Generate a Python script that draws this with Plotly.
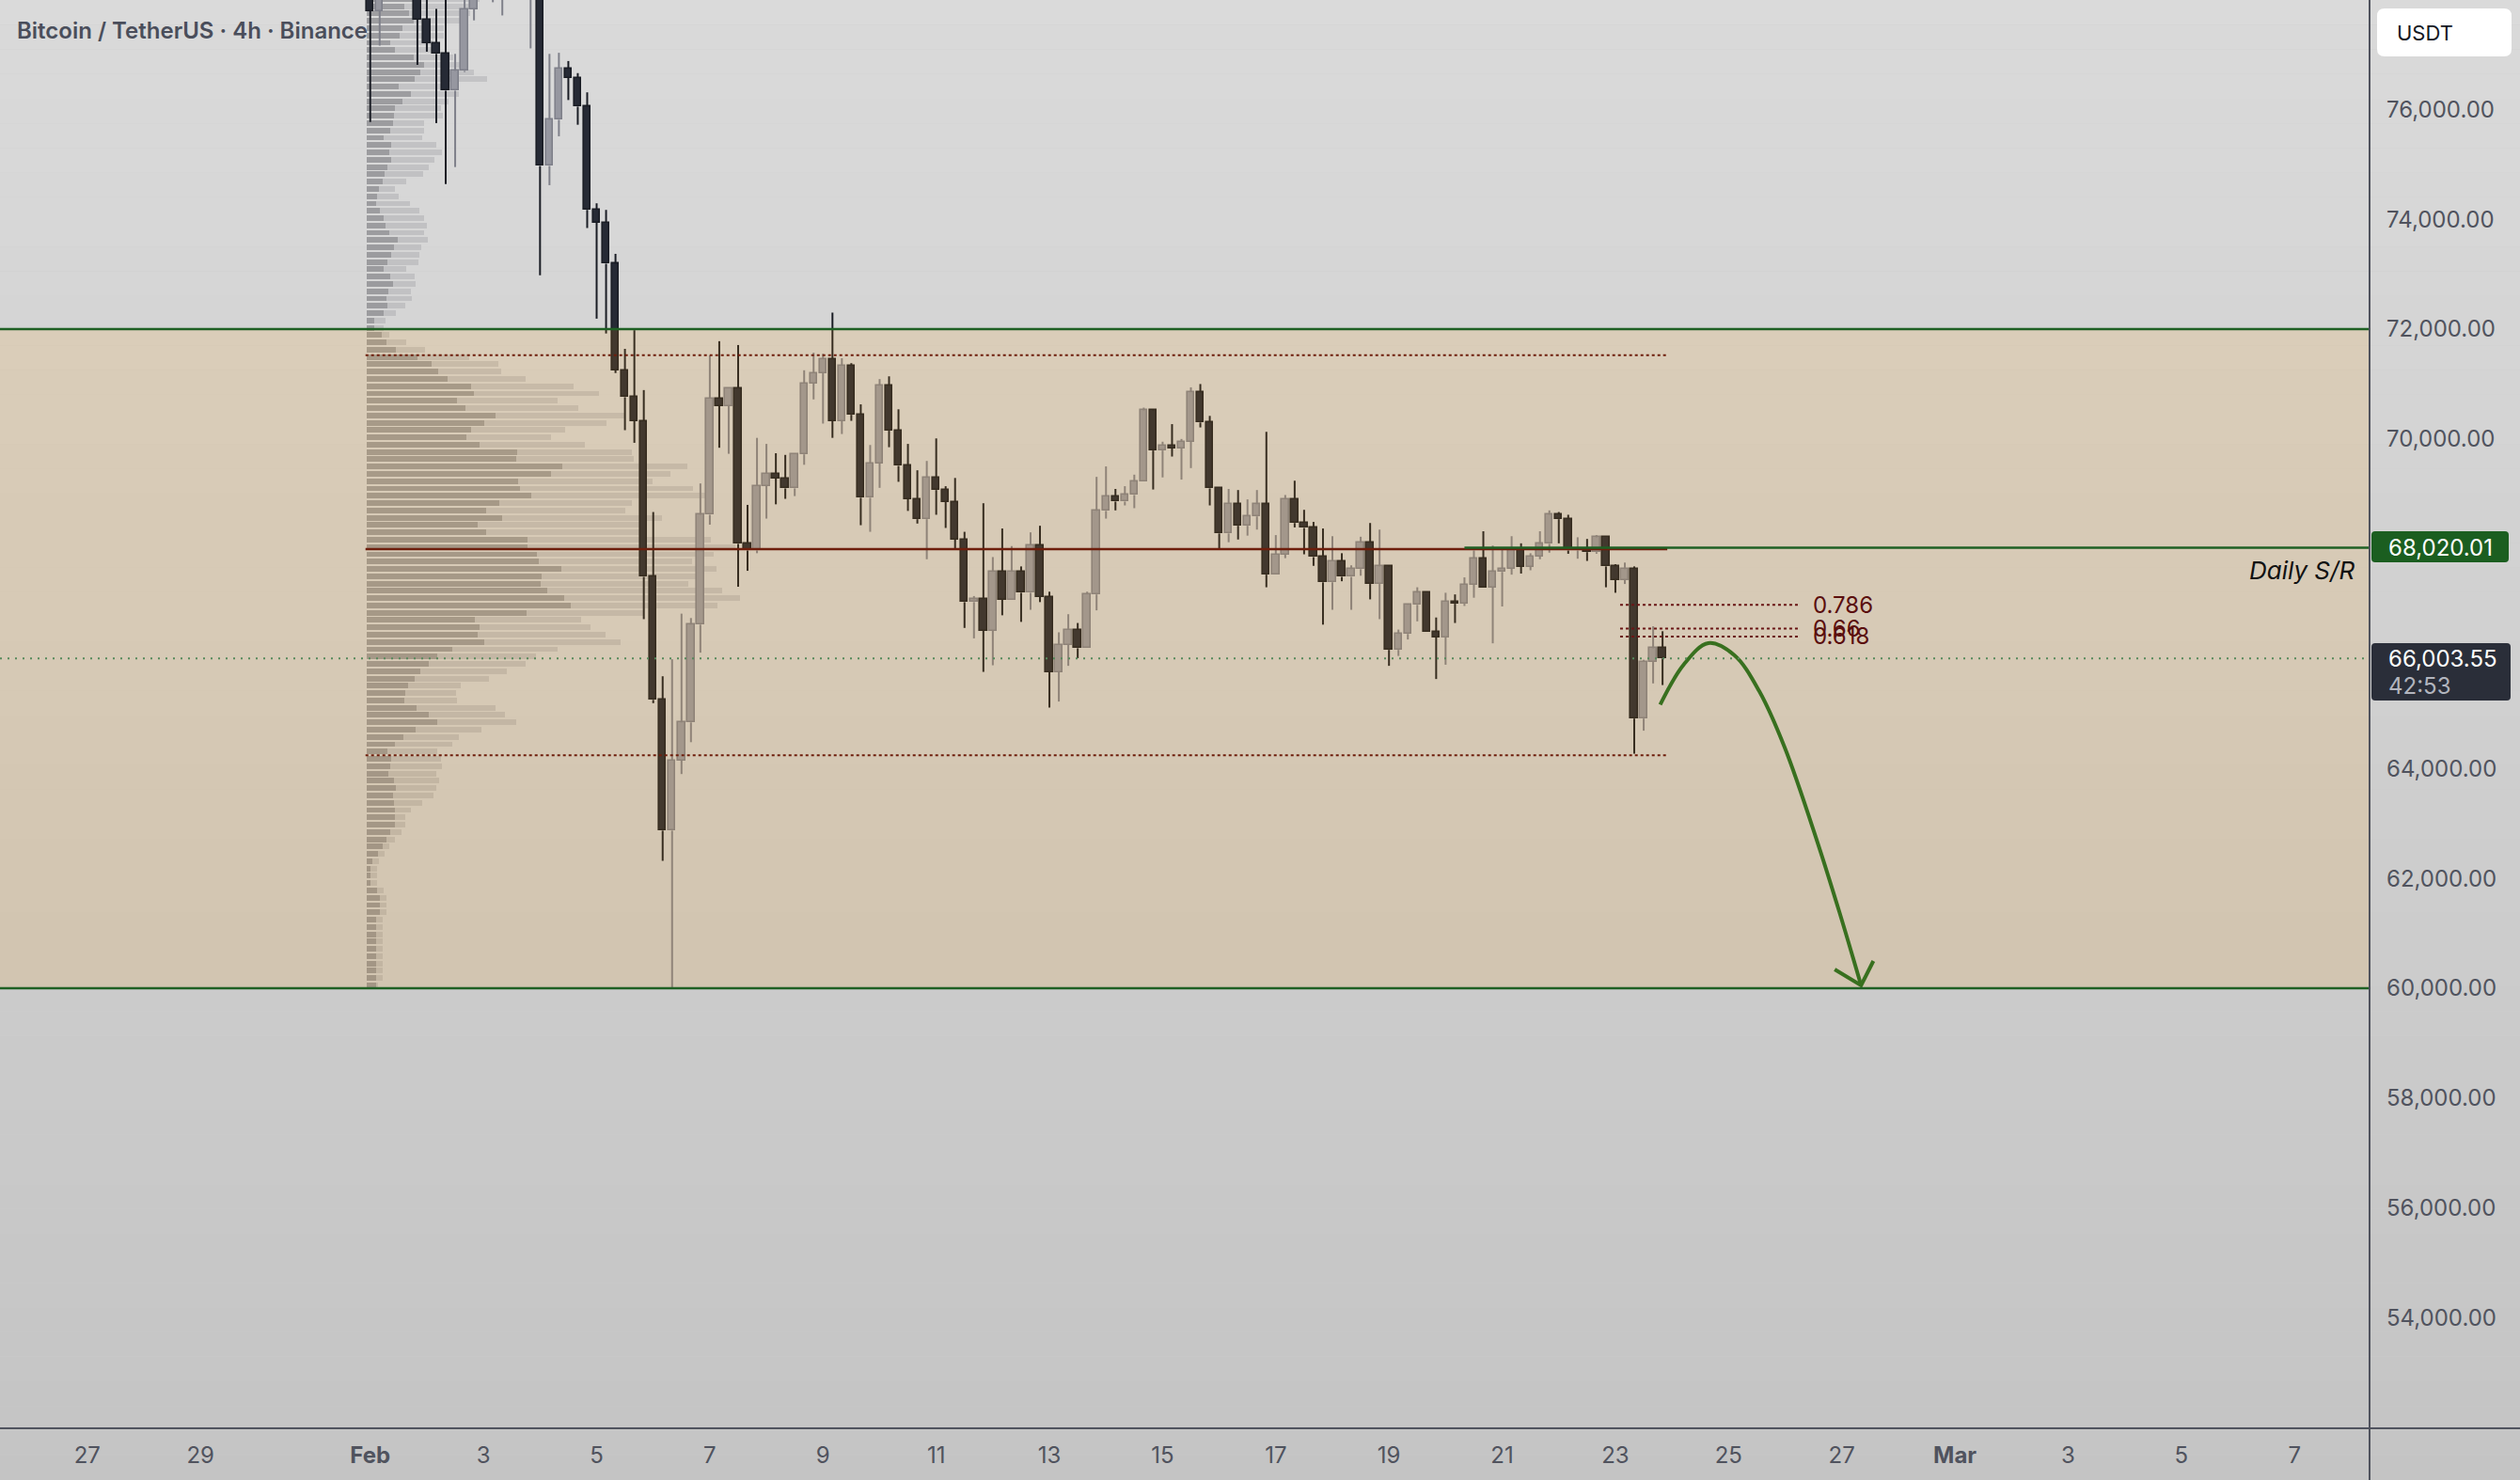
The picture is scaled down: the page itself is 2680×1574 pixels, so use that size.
import plotly.graph_objects as go
import pandas as pd

# ---------------------------------------------------------------- data
bar_start = "2026-02-01 00:00"      # first visible 4h bar
bar_hours = 4

open_ = [78600, 77790, 78300, 78600, 78400, 78250, 77640, 77210, 77010, 76340,
         76700, 77820, 78400, 78700, 78800, 78900, 79000, 78500, 79000, 74970,
         75810, 76740, 76570, 76050, 74170, 73940, 73190, 71250, 70760, 70330,
         67490, 65250, 62870, 64150, 64840, 66620, 68620, 70740, 70600, 70930,
         68090, 67970, 69150, 69370, 69280, 69100, 69720, 71010, 71200, 71450,
         70330, 71330, 70440, 68930, 69560, 70970, 70150, 69510, 68910, 68540,
         69290, 69070, 68850, 68170, 67030, 67080, 66510, 67580, 67070, 67580,
         67200, 68070, 67130, 65760, 66250, 66530, 66190, 67170, 68690, 68950,
         68860, 68980, 69220, 70520, 69790, 69880, 69830, 69950, 70850, 70300,
         69100, 68280, 68820, 68420, 68590, 68810, 67530, 67900, 68900, 68470,
         68380, 67850, 67390, 67780, 67490, 67630, 68110, 67360, 67680, 66160,
         66450, 66980, 67200, 66480, 66390, 67040, 67000, 67350, 67820, 67300,
         67580, 67640, 67980, 67670, 67860, 68090, 68620, 68540, 67970, 67990,
         67940, 68210, 67680, 67430, 67630, 64910, 65940, 66190]
high = [78800, 78500, 78800, 79000, 78700, 78400, 78100, 77830, 78100, 77010,
        78050, 78600, 78900, 79100, 79200, 79300, 79400, 79300, 79100, 77010,
        77030, 76880, 76660, 76310, 74290, 74170, 73370, 71640, 71980, 70890,
        68670, 65680, 65990, 66820, 66740, 69190, 71520, 71780, 70930, 71710,
        68800, 70020, 69910, 69740, 69710, 69720, 71250, 71570, 71550, 72300,
        71470, 71380, 70630, 69890, 71090, 71140, 70540, 69910, 69430, 69600,
        70010, 69140, 69290, 68310, 67140, 68830, 67850, 68370, 68050, 67680,
        68300, 68420, 67220, 66480, 66810, 66650, 67220, 69310, 69500, 69090,
        69140, 69350, 70570, 70540, 69950, 70270, 70000, 70940, 71000, 70420,
        69100, 69090, 69070, 68900, 69070, 70130, 68250, 68980, 69240, 68710,
        68490, 68370, 68230, 67920, 67700, 68220, 68470, 68350, 67700, 66530,
        67000, 67300, 67200, 66750, 67200, 67170, 67480, 67970, 68320, 68060,
        67980, 68230, 68100, 67920, 68320, 68700, 68670, 68620, 68210, 68180,
        68250, 68210, 67720, 67750, 67680, 65980, 66590, 66500]
low = [75770, 77160, 78100, 78200, 78100, 76810, 77050, 75750, 74640, 74950,
       76680, 77620, 78100, 77950, 77710, 78300, 78400, 77110, 72980, 74620,
       75510, 76170, 75720, 73840, 72190, 71920, 71200, 70160, 69930, 66720,
       65190, 62320, 60000, 63900, 64480, 66110, 68440, 69840, 69730, 67310,
       67600, 67920, 68550, 68810, 68910, 68960, 69530, 70720, 70280, 70020,
       70090, 70330, 68430, 68310, 69110, 69850, 69220, 68690, 68460, 67810,
       68620, 68380, 68010, 66560, 66370, 65760, 65880, 66790, 67070, 66670,
       66890, 67030, 65110, 65220, 65870, 66010, 66190, 66880, 68550, 68700,
       68790, 68740, 69220, 69080, 69300, 69680, 69260, 69470, 70210, 68790,
       68010, 68120, 68170, 68240, 68350, 67300, 67530, 67830, 68390, 67900,
       67690, 66620, 66890, 67410, 66890, 67510, 67080, 66720, 65870, 66050,
       66350, 66680, 66480, 65630, 65890, 66650, 66960, 67110, 67300, 66280,
       66950, 67530, 67550, 67610, 67810, 67930, 68100, 67910, 67820, 67780,
       67910, 67300, 67200, 67360, 64270, 64690, 65550, 65520]
close = [77790, 78300, 78600, 78400, 78250, 77640, 77210, 77010, 76340, 76700,
         77820, 78400, 78700, 78800, 78900, 79000, 78500, 79000, 74970, 75810,
         76740, 76570, 76050, 74170, 73940, 73190, 71250, 70760, 70330, 67490,
         65250, 62870, 64150, 64840, 66620, 68620, 70740, 70600, 70930, 68090,
         67970, 69150, 69370, 69280, 69100, 69720, 71010, 71200, 71450, 70330,
         71330, 70440, 68930, 69560, 70970, 70150, 69510, 68910, 68540, 69290,
         69070, 68850, 68170, 67030, 67080, 66510, 67580, 67070, 67580, 67200,
         68070, 67130, 65760, 66250, 66530, 66190, 67170, 68690, 68950, 68860,
         68980, 69220, 70520, 69790, 69880, 69830, 69950, 70850, 70300, 69100,
         68280, 68820, 68420, 68590, 68810, 67530, 67900, 68900, 68470, 68380,
         67850, 67390, 67780, 67490, 67630, 68110, 67360, 67680, 66160, 66450,
         66980, 67200, 66480, 66390, 67040, 67000, 67350, 67820, 67300, 67580,
         67640, 67980, 67670, 67860, 68090, 68620, 68540, 67970, 67990, 67940,
         68210, 67680, 67430, 67630, 64910, 65940, 66190, 66003.55]

# visible-range volume profile, rows listed from the top price row downwards
vp_high_edge = 78077.0
vp_row_size = 133.02
vp_up = [50, 40, 45, 50, 38, 35, 25, 30, 50, 61, 57, 51, 34, 47, 38, 30, 29, 28, 25, 18,
         26, 24, 26, 22, 19, 17, 13, 11, 10, 14, 18, 20, 24, 33, 29, 26, 22, 18, 25, 28,
         23, 21, 22, 18, 8, 8, 16,
         21, 31, 54, 69, 76, 86, 111, 114, 96, 105, 137, 125, 111, 106, 120, 160, 159,
         208, 196, 161, 163, 175, 141, 127, 144, 118, 127, 171, 171, 181, 183, 207, 186,
         185, 192, 210, 217, 170, 115, 120, 118, 125, 91, 75, 66, 57, 51, 44, 41, 40, 53,
         66, 75, 52, 39, 30, 22, 26, 25, 23, 29, 31, 28, 29, 30, 30, 30, 25, 21, 17, 12,
         6, 4, 4, 4, 11, 14, 14, 14, 10, 10, 10, 10, 10, 10, 10, 10, 10, 10]
vp_total = [120, 109, 110, 104, 82, 82, 70, 75, 92, 102, 114, 128, 80, 98, 87, 79, 81, 61, 61, 59,
            74, 80, 72, 66, 60, 42, 30, 34, 46, 56, 61, 64, 61, 65, 58, 56, 55, 42, 51, 52,
            47, 48, 41, 31, 20, 18, 24,
            42, 62, 109, 140, 143, 169, 220, 247, 203, 225, 274, 255, 211, 196, 232, 282, 284,
            341, 323, 304, 347, 365, 282, 275, 314, 290, 292, 366, 392, 369, 346, 372, 353,
            342, 378, 397, 373, 295, 228, 238, 254, 270, 203, 180, 169, 149, 130, 100, 95, 96, 137,
            147, 159, 122, 98, 91, 75, 79, 80, 74, 77, 74, 71, 59, 47, 41, 41, 37, 30, 24, 19,
            13, 11, 11, 11, 18, 21, 21, 21, 17, 17, 17, 17, 17, 17, 17, 17, 17, 12]

zone_top, zone_bottom = 72000, 60000
vah, poc, val = 71526, 67995, 64240
sr_level = 68020.01
sr_start = "2026-02-20 08:00"
last_price = 66003.55
countdown = "42:53"

fib_low, fib_high = 64285, 67715
fib_ratios = [0.786, 0.66, 0.618]
fib_labels = ["0.786", "0.66", "0.618"]
fib_start, fib_end = "2026-02-23 02:00", "2026-02-26 06:00"

arrow_time = ["2026-02-23 19:00", "2026-02-24 05:00", "2026-02-24 15:24", "2026-02-25 02:24",
              "2026-02-25 13:00", "2026-02-25 23:48", "2026-02-26 13:36", "2026-02-26 23:00",
              "2026-02-27 08:12"]
arrow_price = [65165, 65894, 66283, 66065, 65410, 64383, 62671, 61387, 60052]
arrow_head_time = ["2026-02-26 21:00", "2026-02-27 08:12", "2026-02-27 13:24"]
arrow_head_price = [60343, 60052, 60497]

x_tick_vals = ["2026-01-27", "2026-01-29", "2026-02-01", "2026-02-03", "2026-02-05",
               "2026-02-07", "2026-02-09", "2026-02-11", "2026-02-13", "2026-02-15",
               "2026-02-17", "2026-02-19", "2026-02-21", "2026-02-23", "2026-02-25",
               "2026-02-27", "2026-03-01", "2026-03-03", "2026-03-05", "2026-03-07"]
x_tick_text = ["27", "29", "<b>Feb</b>", "3", "5", "7", "9", "11", "13", "15", "17", "19",
               "21", "23", "25", "27", "<b>Mar</b>", "3", "5", "7"]
y_tick_vals = [54000, 56000, 58000, 60000, 62000, 64000, 70000, 72000, 74000, 76000]

view_start, view_end = "2026-01-25 11:00", "2026-03-08 07:48"
price_min, price_max = 51990, 77991

title_text = "Bitcoin / TetherUS · 4h · Binance"
sr_text = "Daily S/R"
currency = "USDT"

# ---------------------------------------------------------------- layout geometry
W_FIG, H_FIG = 2680, 1574
M_L, M_R, M_T, M_B = 0, 160, 0, 55
PW, PH = W_FIG - M_L - M_R, H_FIG - M_T - M_B
VP_ORIGIN_PX = 390          # left edge of the profile inside the plot


def pxx(x):
    return (x - M_L) / PW


def pxy(y):
    return 1 - (y - M_T) / PH


FONT = "Inter, Roboto, sans-serif"
AXIS_TXT = "#50535e"
GREEN = "#1f6024"
DARK_RED = "#6e1e0c"

times = pd.date_range(bar_start, periods=len(close), freq=f"{bar_hours}h")
bar_ms = bar_hours * 3600 * 1000
half_bar = pd.Timedelta(hours=bar_hours / 2)

fig = go.Figure()

# ---- volume profile (base x axis, linear, drawn underneath the candles)
row_centers = [vp_high_edge - (j + 0.5) * vp_row_size for j in range(len(vp_total))]
fig.add_trace(go.Bar(
    y=row_centers, x=vp_up, base=0, orientation="h", width=vp_row_size * 0.76,
    marker=dict(color="rgba(85,85,90,0.45)", line_width=0),
    xaxis="x", yaxis="y", hoverinfo="skip", showlegend=False))
fig.add_trace(go.Bar(
    y=row_centers, x=[t - u for t, u in zip(vp_total, vp_up)], base=vp_up,
    orientation="h", width=vp_row_size * 0.76,
    marker=dict(color="rgba(120,120,126,0.22)", line_width=0),
    xaxis="x", yaxis="y", hoverinfo="skip", showlegend=False))

# ---- candles (date axis x2 overlaying)
styles = {True: dict(fill="#9697a0", edge="#7f808a"),
          False: dict(fill="#262a35", edge="#1a1d25")}
for is_bull in (True, False):
    idx = [i for i in range(len(close)) if (close[i] >= open_[i]) == is_bull]
    wx, wy = [], []
    for i in idx:
        top, bot = max(open_[i], close[i]), min(open_[i], close[i])
        wx += [times[i], times[i], None, times[i], times[i], None]
        wy += [high[i], top, None, bot, low[i], None]
    fig.add_trace(go.Scatter(
        x=wx, y=wy, mode="lines", line=dict(color=styles[is_bull]["edge"], width=2),
        xaxis="x2", yaxis="y", hoverinfo="skip", showlegend=False))
    fig.add_trace(go.Bar(
        x=[times[i] for i in idx],
        y=[abs(close[i] - open_[i]) for i in idx],
        base=[min(open_[i], close[i]) for i in idx],
        width=0.74 * bar_ms,
        marker=dict(color=styles[is_bull]["fill"],
                    line=dict(color=styles[is_bull]["edge"], width=1.6)),
        xaxis="x2", yaxis="y", hoverinfo="skip", showlegend=False))

# ---- projected path arrow
fig.add_trace(go.Scatter(
    x=arrow_time, y=arrow_price, mode="lines",
    line=dict(color="#1b6a24", width=4, shape="spline", smoothing=1.0),
    xaxis="x2", yaxis="y", hoverinfo="skip", showlegend=False))
fig.add_trace(go.Scatter(
    x=arrow_head_time, y=arrow_head_price, mode="lines",
    line=dict(color="#1b6a24", width=4),
    xaxis="x2", yaxis="y", hoverinfo="skip", showlegend=False))

# ---------------------------------------------------------------- shapes
shapes = []
# background gradient (whole page)
n_band = 60
top_c, bot_c = 218, 196
for b in range(n_band):
    y0 = b * H_FIG / n_band
    y1 = (b + 1) * H_FIG / n_band
    c = round(top_c + (bot_c - top_c) * (b + 0.5) / n_band)
    shapes.append(dict(type="rect", xref="paper", yref="paper", x0=pxx(0), x1=pxx(W_FIG),
                       y0=pxy(y1), y1=pxy(y0), fillcolor=f"rgb({c},{c},{c})",
                       line=dict(width=0), layer="below"))

# range zone (drawn over the candles)
shapes.append(dict(type="rect", xref="paper", yref="y", x0=0, x1=1, y0=zone_bottom, y1=zone_top,
                   fillcolor="rgba(255,152,0,0.13)", line=dict(width=0), layer="above"))
for lvl in (zone_top, zone_bottom):
    shapes.append(dict(type="line", xref="paper", yref="y", x0=0, x1=1, y0=lvl, y1=lvl,
                       line=dict(color=GREEN, width=2.5), layer="above"))

va_x0, va_x1 = times[0] - half_bar, times[-1] + half_bar
for lvl, dash, wdt in ((vah, "3px,3px", 2), (val, "3px,3px", 2), (poc, "solid", 2.5)):
    shapes.append(dict(type="line", xref="x2", yref="y", x0=va_x0, x1=va_x1, y0=lvl, y1=lvl,
                       line=dict(color=DARK_RED, width=wdt, dash=dash), layer="above"))

shapes.append(dict(type="line", xref="x2", yref="y", x0=sr_start, x1=view_end,
                   y0=sr_level, y1=sr_level, line=dict(color=GREEN, width=2.5), layer="above"))

shapes.append(dict(type="line", xref="paper", yref="y", x0=0, x1=1, y0=last_price, y1=last_price,
                   line=dict(color="#55895b", width=2, dash="2px,6px"), layer="above"))

fib_prices = [fib_low + r * (fib_high - fib_low) for r in fib_ratios]
for fp in fib_prices:
    shapes.append(dict(type="line", xref="x2", yref="y", x0=fib_start, x1=fib_end, y0=fp, y1=fp,
                       line=dict(color="#6a1616", width=2, dash="3px,3px"), layer="above"))

# axis borders
shapes.append(dict(type="line", xref="paper", yref="paper", x0=1, x1=1, y0=pxy(H_FIG), y1=1,
                   line=dict(color="#50535e", width=2), layer="above"))
shapes.append(dict(type="line", xref="paper", yref="paper", x0=0, x1=pxx(W_FIG), y0=0, y1=0,
                   line=dict(color="#50535e", width=2), layer="above"))


def rounded_box(x0, y0, x1, y1, r):
    """pixel box -> paper path with rounded corners"""
    X = lambda v: pxx(v)
    Y = lambda v: pxy(v)
    return (f"M {X(x0 + r)},{Y(y0)} L {X(x1 - r)},{Y(y0)} Q {X(x1)},{Y(y0)} {X(x1)},{Y(y0 + r)} "
            f"L {X(x1)},{Y(y1 - r)} Q {X(x1)},{Y(y1)} {X(x1 - r)},{Y(y1)} "
            f"L {X(x0 + r)},{Y(y1)} Q {X(x0)},{Y(y1)} {X(x0)},{Y(y1 - r)} "
            f"L {X(x0)},{Y(y0 + r)} Q {X(x0)},{Y(y0)} {X(x0 + r)},{Y(y0)} Z")


shapes.append(dict(type="path", xref="paper", yref="paper", path=rounded_box(2528, 9, 2671, 60, 8),
                   fillcolor="#ffffff", line=dict(width=0), layer="above"))
shapes.append(dict(type="path", xref="paper", yref="paper", path=rounded_box(2522, 565, 2668, 598, 4),
                   fillcolor="#1b5e20", line=dict(width=0), layer="above"))
shapes.append(dict(type="path", xref="paper", yref="paper", path=rounded_box(2522, 684, 2670, 745, 4),
                   fillcolor="#2a2e39", line=dict(width=0), layer="above"))

# ---------------------------------------------------------------- annotations
ann = []
ann.append(dict(text=title_text, xref="paper", yref="paper", x=pxx(16), y=pxy(32),
                xanchor="left", yanchor="middle", showarrow=False,
                font=dict(family=FONT, size=24, color="#4a4e5b", weight=600)))
ann.append(dict(text=sr_text, xref="paper", yref="paper", x=pxx(2506), y=pxy(607),
                xanchor="right", yanchor="middle", showarrow=False,
                font=dict(family=FONT, size=26, color="#111111", style="italic")))
for fp, lab in zip(fib_prices, fib_labels):
    ann.append(dict(text=lab, xref="x2", yref="y", x=fib_end, y=fp, xshift=12,
                    xanchor="left", yanchor="middle", showarrow=False,
                    font=dict(family=FONT, size=24, color="#5a0e0e")))
ann.append(dict(text=currency, xref="paper", yref="paper", x=pxx(2547), y=pxy(35),
                xanchor="left", yanchor="middle", showarrow=False,
                font=dict(family=FONT, size=22, color="#131722")))
ann.append(dict(text=f"{sr_level:,.2f}", xref="paper", yref="y", x=pxx(2538), y=sr_level,
                xanchor="left", yanchor="middle", showarrow=False,
                font=dict(family=FONT, size=24, color="#ffffff")))
ann.append(dict(text=f"{last_price:,.2f}", xref="paper", yref="y", x=pxx(2538), y=last_price,
                xanchor="left", yanchor="middle", showarrow=False,
                font=dict(family=FONT, size=24, color="#ffffff")))
ann.append(dict(text=countdown, xref="paper", yref="paper", x=pxx(2538), y=pxy(729),
                xanchor="left", yanchor="middle", showarrow=False,
                font=dict(family=FONT, size=24, color="#b2b5be")))

fig.update_layout(
    width=W_FIG, height=H_FIG,
    margin=dict(l=M_L, r=M_R, t=M_T, b=M_B, pad=0),
    paper_bgcolor="rgb(205,205,205)", plot_bgcolor="rgba(0,0,0,0)",
    barmode="overlay", bargap=0, showlegend=False, hovermode=False,
    xaxis=dict(range=[-VP_ORIGIN_PX, PW - VP_ORIGIN_PX], visible=False, fixedrange=True),
    xaxis2=dict(type="date", overlaying="x", anchor="y", side="bottom",
                range=[view_start, view_end], tickvals=x_tick_vals, ticktext=x_tick_text,
                showgrid=False, zeroline=False, showline=False, ticks="",
                ticklabelstandoff=12,
                tickfont=dict(family=FONT, size=24, color=AXIS_TXT), fixedrange=True),
    yaxis=dict(side="right", anchor="x", range=[price_min, price_max],
               tickvals=y_tick_vals, ticktext=[f"{v:,.2f}" for v in y_tick_vals],
               showgrid=False, zeroline=False, showline=False, ticks="",
               ticklabelstandoff=17,
               tickfont=dict(family=FONT, size=24, color=AXIS_TXT), fixedrange=True),
    shapes=shapes, annotations=ann,
)

fig.write_html("out.html")
